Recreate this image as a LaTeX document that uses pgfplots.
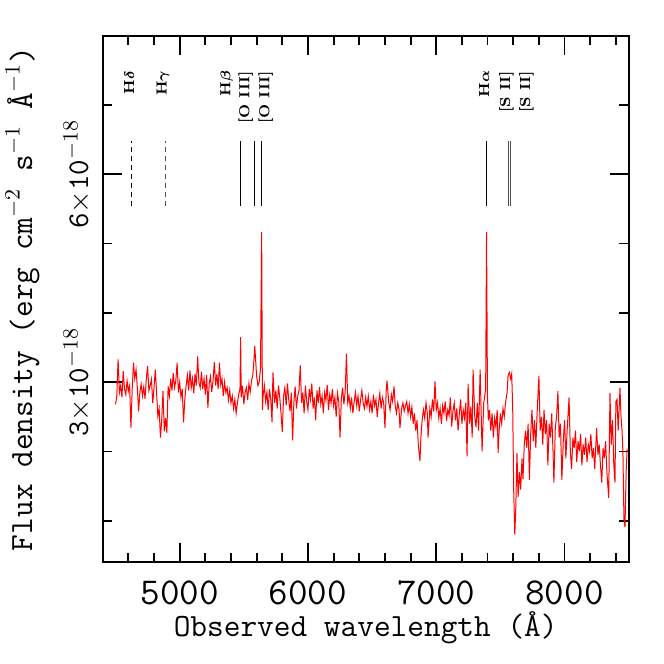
\documentclass[border=0pt]{standalone}
\usepackage{amsmath}
\usepackage{pgfplots}
\usepackage{pgfplotstable}
\pgfplotsset{compat=1.18}

% flux in units of 1e-18 erg/cm2/s/A
\pgfplotstableread{
lam flux
4500 2.68
4510 2.80
4520 3.33
4530 2.85
4540 2.95
4550 2.78
4560 3.16
4570 2.90
4580 2.82
4590 3.02
4600 2.87
4610 2.95
4620 2.34
4630 2.90
4640 3.28
4650 3.05
4660 3.18
4670 2.92
4680 2.58
4690 2.86
4700 2.97
4710 2.80
4720 2.93
4730 2.76
4740 3.05
4750 3.23
4760 2.88
4770 2.95
4780 3.04
4790 2.70
4800 2.92
4810 3.18
4820 2.85
4830 2.51
4840 2.62
4850 2.20
4860 2.45
4870 2.87
4880 2.29
4890 2.48
4900 2.27
4910 2.94
4920 2.80
4930 3.05
4940 2.88
4950 3.13
4960 2.92
4970 3.02
4980 3.28
4990 2.85
5000 3.00
5010 2.78
5020 2.90
5030 2.42
5040 2.75
5050 2.95
5060 3.10
5070 2.88
5080 3.17
5090 2.92
5100 3.05
5110 2.84
5120 3.12
5130 2.95
5140 3.37
5150 3.00
5160 2.92
5170 3.15
5180 2.90
5190 3.05
5200 2.82
5210 3.10
5220 2.63
5230 2.98
5240 3.08
5250 2.86
5260 3.02
5270 3.29
5280 2.95
5290 3.12
5300 2.90
5310 3.28
5320 2.96
5330 3.05
5340 2.80
5350 3.00
5360 2.85
5370 2.92
5380 2.74
5390 2.88
5400 2.70
5410 2.80
5420 2.62
5430 2.75
5440 2.55
5450 2.70
5460 2.82
5470 2.90
5475 3.65
5480 2.78
5490 2.95
5500 2.68
5510 2.85
5520 2.92
5530 2.74
5540 2.98
5550 2.86
5560 3.02
5570 3.10
5580 3.35
5585 3.52
5590 3.38
5600 3.08
5610 2.95
5620 3.00
5630 3.20
5639 5.17
5645 2.60
5650 2.80
5660 2.95
5670 2.72
5680 2.85
5690 2.60
5700 2.90
5710 2.75
5720 2.42
5727 3.14
5740 2.70
5750 2.88
5760 2.62
5770 2.95
5780 2.78
5790 2.55
5800 2.28
5810 2.80
5820 2.92
5830 2.66
5840 2.98
5850 2.75
5860 2.58
5870 2.85
5880 2.16
5890 2.70
5900 2.94
5910 2.62
5920 2.80
5930 2.88
5940 3.24
5950 2.70
5960 2.85
5970 2.55
5980 2.95
5990 2.72
6000 2.60
6010 2.90
6020 2.75
6030 2.98
6040 2.62
6050 2.78
6060 2.45
6070 2.88
6080 2.70
6090 2.93
6100 2.68
6110 2.80
6120 2.55
6130 2.85
6140 2.74
6150 2.96
6160 2.60
6170 2.82
6180 2.70
6190 2.90
6200 2.66
6210 2.78
6220 2.50
6230 2.84
6240 2.72
6250 2.20
6260 2.76
6270 2.92
6280 2.68
6290 2.86
6300 3.41
6310 2.70
6320 2.80
6330 2.62
6340 2.78
6350 2.55
6360 2.72
6370 2.85
6380 2.66
6390 2.80
6400 2.58
6410 2.74
6420 2.88
6430 2.70
6440 2.62
6450 2.78
6460 2.65
6470 2.80
6480 2.60
6490 2.72
6500 2.55
6510 2.82
6520 2.66
6530 2.75
6540 2.50
6550 2.70
6560 2.84
6570 2.62
6580 2.78
6590 2.70
6600 2.34
6610 2.88
6616 3.02
6630 2.70
6640 2.60
6650 2.82
6660 2.72
6671 2.94
6680 2.66
6690 2.55
6700 2.70
6710 2.60
6717 2.34
6730 2.62
6740 2.70
6750 2.58
6760 2.66
6770 2.72
6780 2.55
6790 2.68
6800 2.50
6810 2.64
6820 2.40
6830 2.55
6840 2.30
6850 2.45
6860 2.10
6873 1.86
6880 2.20
6890 2.45
6900 2.60
6910 2.48
6920 2.70
6930 2.56
6936 2.20
6950 2.62
6960 2.50
6970 2.75
6980 2.58
6990 3.01
7000 2.60
7010 2.70
7020 2.48
7030 2.62
7040 2.40
7050 2.66
7060 2.55
7070 2.72
7080 2.44
7090 2.60
7100 2.52
7110 2.78
7120 2.36
7130 2.58
7140 2.70
7150 2.45
7160 2.62
7170 2.30
7180 2.55
7190 2.75
7200 2.40
7210 2.60
7220 2.48
7230 2.70
7240 1.93
7248 2.98
7260 2.40
7270 2.65
7280 2.20
7287 3.18
7300 2.50
7310 2.35
7320 2.70
7330 2.30
7342 3.18
7350 2.55
7357 2.00
7370 2.70
7385 2.90
7392 5.17
7399 2.80
7406 2.45
7415 2.60
7425 2.30
7435 2.55
7445 2.20
7455 2.48
7465 2.35
7475 2.60
7482 1.98
7490 2.30
7500 2.55
7510 2.40
7520 2.62
7530 2.50
7540 2.71
7552 2.85
7560 3.10
7570 3.14
7580 3.05
7588 3.12
7596 2.60
7604 1.40
7612 0.80
7620 1.20
7629 1.98
7638 1.34
7648 1.70
7658 1.45
7668 1.90
7676 1.60
7686 2.10
7696 2.30
7706 2.05
7716 2.40
7726 1.59
7736 2.25
7746 2.60
7756 2.15
7766 2.45
7776 2.05
7786 2.55
7800 3.09
7810 2.30
7820 2.50
7830 2.10
7840 2.60
7850 2.25
7860 2.45
7870 1.80
7880 2.40
7890 2.20
7900 2.55
7910 2.00
7917 1.55
7928 2.35
7938 2.50
7948 2.87
7958 2.20
7968 2.40
7979 1.59
7990 2.15
8000 2.45
8010 1.90
8020 2.30
8035 2.78
8045 2.00
8055 1.75
8065 2.20
8075 2.05
8085 2.30
8095 1.85
8105 2.15
8115 2.00
8125 2.25
8135 1.80
8145 2.10
8155 1.95
8165 2.20
8175 1.85
8185 2.10
8195 2.00
8205 2.25
8215 1.90
8225 2.05
8235 1.75
8250 2.34
8260 1.95
8270 2.10
8280 1.80
8290 1.55
8300 2.05
8310 1.90
8320 2.15
8330 1.70
8344 1.33
8354 2.84
8364 2.10
8374 2.45
8384 1.80
8393 1.55
8400 2.72
8409 2.75
8418 2.30
8425 2.60
8432 2.92
8440 2.50
8448 2.30
8455 1.98
8463 1.01
8471 0.91
8480 1.70
8487 2.02
8494 2.00
}\spectrum

\begin{document}
\begin{tikzpicture}
\begin{axis}[
  name=ax,
  scale only axis,
  width=263pt, height=263.3pt,
  xmin=4400, xmax=8500,
  ymin=0.4, ymax=8.0,
  xtick={5000,6000,7000,8000},
  xticklabels={5000,6000,7000,8000},
  minor xtick={4600,4800,5200,5400,5600,5800,6200,6400,6600,6800,7200,7400,7600,7800,8200,8400},
  ytick={3,6},
  yticklabels={{3$\times$10$^{-18}$},{6$\times$10$^{-18}$}},
  minor ytick={1,2,4,5,7},
  tick align=inside,
  major tick length=9.5pt,
  minor tick length=4.75pt,
  axis line style={line width=0.9pt},
  every tick/.append style={black, line width=0.9pt},
  xticklabel style={font=\fontsize{19}{21}\selectfont\ttfamily, anchor=north, inner sep=0pt, yshift=-8.85pt},
  yticklabel style={font=\fontsize{15}{18}\selectfont\ttfamily, rotate=90, anchor=south, inner xsep=0pt, inner ysep=5.85pt},
  xlabel style={font=\fontsize{16.2}{19}\selectfont\ttfamily},
  ylabel style={font=\fontsize{16.2}{19}\selectfont\ttfamily},
  xlabel={Observed wavelength (Å)},
  ylabel={Flux density (erg cm$^{-2}$ s$^{-1}$ Å$^{-1}$)},
  label style={inner sep=0pt},
  every axis x label/.append style={at={(axis description cs:0.5,-0.1414)}, anchor=base},
  every axis y label/.append style={at={(axis description cs:-0.134,0.5)}, anchor=base},
]
\addplot[red, line width=0.5pt] table[x=lam, y=flux] {\spectrum};

% line markers
\addplot[black, line width=0.4pt, dash pattern=on 2.5pt off 2pt] coordinates {(4620,5.54) (4620,6.48)};
\addplot[black!70, line width=0.4pt, dash pattern=on 2.5pt off 2pt] coordinates {(4889,5.54) (4889,6.48)};
\addplot[black, line width=0.4pt] coordinates {(5475,5.54) (5475,6.48)};
\addplot[black, line width=0.4pt] coordinates {(5585,5.54) (5585,6.48)};
\addplot[black, line width=0.4pt] coordinates {(5639,5.54) (5639,6.48)};
\addplot[black, line width=0.4pt] coordinates {(7392,5.54) (7392,6.48)};
\addplot[black!70, line width=0.4pt] coordinates {(7563,5.54) (7563,6.48)};
\addplot[black!70, line width=0.4pt] coordinates {(7578,5.54) (7578,6.48)};

\node[rotate=90, anchor=east, inner sep=0pt, font=\fontsize{7.3}{8}\selectfont\bfseries] at (axis cs:4605,7.5) {H$\boldsymbol{\delta}$};
\node[rotate=90, anchor=east, inner sep=0pt, font=\fontsize{7.3}{8}\selectfont\bfseries] at (axis cs:4870,7.5) {H$\boldsymbol{\gamma}$};
\node[rotate=90, anchor=east, inner sep=0pt, font=\fontsize{7.3}{8}\selectfont\bfseries] at (axis cs:5366,7.5) {H$\boldsymbol{\beta}$};
\node[rotate=90, anchor=east, inner sep=0pt, font=\fontsize{7.3}{8}\selectfont\bfseries] at (axis cs:5515,7.5) {{[O III]}};
\node[rotate=90, anchor=east, inner sep=0pt, font=\fontsize{7.3}{8}\selectfont\bfseries] at (axis cs:5670,7.5) {{[O III]}};
\node[rotate=90, anchor=east, inner sep=0pt, font=\fontsize{7.3}{8}\selectfont\bfseries] at (axis cs:7372,7.5) {H$\boldsymbol{\alpha}$};
\node[rotate=90, anchor=east, inner sep=0pt, font=\fontsize{7.3}{8}\selectfont\bfseries] at (axis cs:7548,7.5) {{[S II]}};
\node[rotate=90, anchor=east, inner sep=0pt, font=\fontsize{7.3}{8}\selectfont\bfseries] at (axis cs:7704,7.5) {{[S II]}};
\end{axis}
\pgfresetboundingbox
\path ([shift={(-51.35pt,-50.85pt)}]ax.south west) rectangle ([shift={(17.65pt,17.85pt)}]ax.north east);
\end{tikzpicture}
\end{document}
